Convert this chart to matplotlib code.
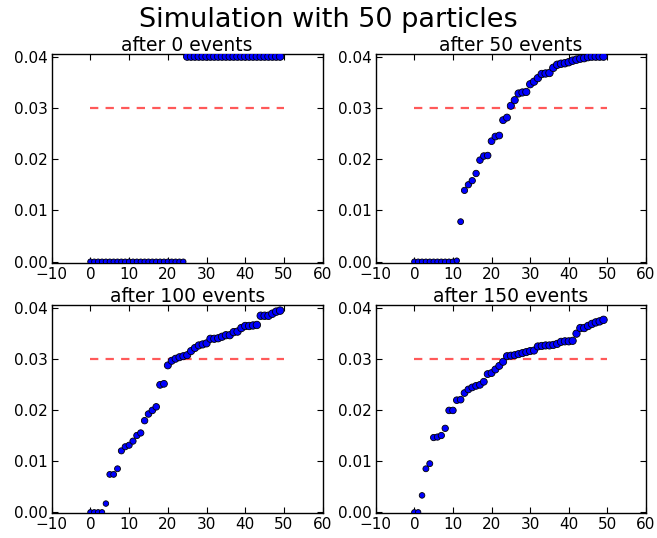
import matplotlib
matplotlib.use("Agg")
import matplotlib.pyplot as plt
import numpy as np

plt.rcParams['font.family'] = ['DejaVu Sans']
plt.rcParams['lines.scale_dashes'] = False

titles = ["after 0 events", "after 50 events", "after 100 events", "after 150 events"]
suptitle = "Simulation with 50 particles"
threshold = 0.03
x_particles = list(range(50))

vals_0 = [0.0] * 25 + [0.04] * 25

vals_50 = [0.0] * 11 + [
    0.0002, 0.0078, 0.0139, 0.0150, 0.0158, 0.0172, 0.0198, 0.0206, 0.0207,
    0.0235, 0.0244, 0.0246, 0.0276, 0.0281, 0.0304, 0.0315, 0.0328, 0.0330,
    0.0331, 0.0346, 0.0351, 0.0358, 0.0366, 0.0367, 0.0368, 0.0378, 0.0384,
    0.0386, 0.0387, 0.0389, 0.0392, 0.0394, 0.0396, 0.0397, 0.0399, 0.04,
    0.04, 0.04, 0.04]

vals_100 = [0.0, 0.0, 0.0, 0.0,
    0.0017, 0.0074, 0.0074, 0.0085, 0.0120, 0.0128, 0.0131, 0.0139, 0.0150,
    0.0155, 0.0179, 0.0192, 0.0199, 0.0206, 0.0249, 0.0251, 0.0287, 0.0296,
    0.0300, 0.0303, 0.0305, 0.0307, 0.0315, 0.0321, 0.0326, 0.0328, 0.0330,
    0.0339, 0.0339, 0.0340, 0.0343, 0.0346, 0.0346, 0.0352, 0.0353, 0.0360,
    0.0364, 0.0364, 0.0365, 0.0366, 0.0384, 0.0384, 0.0384, 0.0388, 0.0392,
    0.0394]

vals_150 = [0.0, 0.0,
    0.0033, 0.0085, 0.0095, 0.0146, 0.0147, 0.0150, 0.0164, 0.0199, 0.0199,
    0.0219, 0.0220, 0.0233, 0.0240, 0.0244, 0.0247, 0.0249, 0.0255, 0.0270,
    0.0272, 0.0279, 0.0286, 0.0294, 0.0305, 0.0306, 0.0307, 0.0309, 0.0311,
    0.0313, 0.0315, 0.0316, 0.0324, 0.0325, 0.0326, 0.0326, 0.0327, 0.0329,
    0.0333, 0.0334, 0.0334, 0.0335, 0.0349, 0.0360, 0.0360, 0.0364, 0.0368,
    0.0371, 0.0373, 0.0376]

series = [vals_0, vals_50, vals_100, vals_150]
x_ticks = [-10, 0, 10, 20, 30, 40, 50, 60]
y_ticks = [0.00, 0.01, 0.02, 0.03, 0.04]

W, H = 657, 538
fig = plt.figure(figsize=(W / 100, H / 100), dpi=100)

# axes boxes in pixels: left, right, top, bottom
boxes = [
    (51.7, 322.7, 54.0, 262.7),
    (375.7, 646.0, 54.0, 262.7),
    (51.7, 322.7, 305.0, 513.3),
    (375.7, 646.0, 305.0, 513.3),
]

for box, vals, title in zip(boxes, series, titles):
    l, r, t, b = box
    ax = fig.add_axes([l / W, 1 - b / H, (r - l) / W, (b - t) / H])
    v = np.array(vals)
    sizes = 15 + 370 * v
    ax.scatter(x_particles, vals, s=sizes, c='#0000ff', edgecolors='black',
               linewidths=0.6, zorder=3)
    ax.plot([0, 50], [threshold, threshold], color='red', alpha=0.65,
            lw=1.6, dashes=(6, 5.2), zorder=2)
    ax.set_xlim(-10, 60)
    ax.set_ylim(-0.0002, 0.0405)
    ax.set_xticks(x_ticks)
    ax.set_yticks(y_ticks)
    ax.set_yticklabels([f"{y:.2f}" for y in y_ticks])
    ax.tick_params(direction='in', top=True, right=True, length=4, width=0.8,
                   labelsize=11, pad=3, colors='black')
    for sp in ax.spines.values():
        sp.set_linewidth(1.0)
        sp.set_color('black')
    ax.set_title(title, fontsize=13.5, pad=2)

fig.text(0.5, 1 - 20 / H, suptitle, ha='center', va='center', fontsize=19.5)
fig.savefig("out.png", dpi=100)
